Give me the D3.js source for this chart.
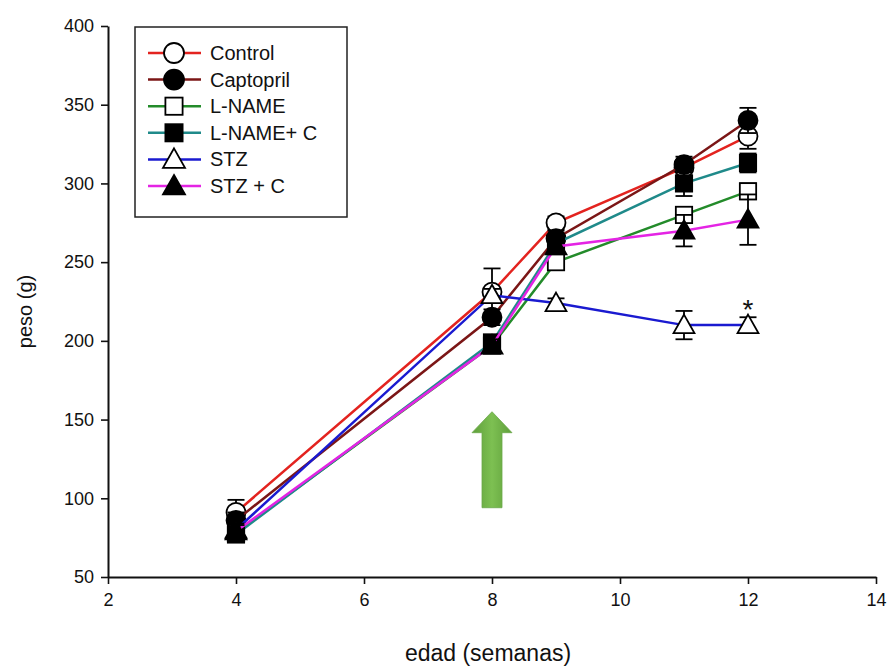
<!DOCTYPE html>
<html>
<head>
<meta charset="utf-8">
<script src="https://cdn.jsdelivr.net/npm/d3@7"></script>
<style>
  body { margin: 0; background: #fff; }
  svg { display: block; font-family: "Liberation Sans", Arial, sans-serif; }
</style>
</head>
<body>
<svg id="chart" width="890" height="666"></svg>
<script>
// Body weight (g) by age (weeks) for each treatment group, mean ± SE
const weeks = [4, 8, 9, 11, 12];
const groupNames = ["Control", "Captopril", "L-NAME", "L-NAME+ C", "STZ", "STZ + C"];
const controlMean   = [91, 231, 275, 310, 330];
const controlErr    = [8, 15, 4, 5, 8];
const captoprilMean = [86, 215, 265, 312, 340];
const captoprilErr  = [5, 5, 5, 5, 8];
const lnameMean     = [78, 197, 250, 280, 295];
const lnameErr      = [4, 4, 5, 5, 5];
const lnameCMean    = [77, 199, 262, 300, 313];
const lnameCErr     = [4, 4, 5, 8, 6];
const stzMean       = [80, 229, 224, 210, 210];
const stzErr        = [4, 4, 3, 9, 5];
const stzCMean      = [79, 197, 260, 270, 277];
const stzCErr       = [4, 4, 5, 10, 16];
const xTicks = [2, 4, 6, 8, 10, 12, 14];
const yTicks = [50, 100, 150, 200, 250, 300, 350, 400];
const starWeek = 12, starValue = 225;             // significance mark over STZ
const arrowWeek = 8, arrowTop = 155, arrowBottom = 94; // treatment start

const styles = [
  { color: "#e3231f", shape: "circle",   fill: "#fff" },
  { color: "#7b1616", shape: "circle",   fill: "#000" },
  { color: "#238b2a", shape: "square",   fill: "#fff" },
  { color: "#1f8a8a", shape: "square",   fill: "#000" },
  { color: "#1a1ad0", shape: "triangle", fill: "#fff" },
  { color: "#e424e4", shape: "triangle", fill: "#000" }
];
const means = [controlMean, captoprilMean, lnameMean, lnameCMean, stzMean, stzCMean];
const errs  = [controlErr, captoprilErr, lnameErr, lnameCErr, stzErr, stzCErr];
const series = groupNames.map((name, i) => ({
  name, ...styles[i],
  points: weeks.map((w, j) => ({ w, v: means[i][j], e: errs[i][j] }))
}));

const svg = d3.select("#chart");
const margin = { left: 108, top: 26, right: 14, bottom: 89 };
const W = 890 - margin.left - margin.right;
const H = 666 - margin.top - margin.bottom;
const g = svg.append("g").attr("transform", `translate(${margin.left},${margin.top})`);

const x = d3.scaleLinear().domain([2, 14]).range([0, W]);
const y = d3.scaleLinear().domain([50, 400]).range([H, 0]);

// Axes
const yAxis = g.append("g")
  .call(d3.axisLeft(y).tickValues(yTicks).tickSize(7).tickSizeOuter(0).tickPadding(7));
const xAxis = g.append("g").attr("transform", `translate(0,${H})`)
  .call(d3.axisBottom(x).tickValues(xTicks).tickSize(7).tickSizeOuter(0).tickPadding(9));
[yAxis, xAxis].forEach(a => {
  a.select(".domain").attr("stroke", "#111").attr("stroke-width", 2);
  a.selectAll(".tick line").attr("stroke", "#111").attr("stroke-width", 1.6);
  a.selectAll(".tick text").attr("fill", "#111").style("font-size", "18px")
    .style("font-family", "'Liberation Sans', Arial, sans-serif");
});

g.append("text").attr("transform", `translate(-76,${H / 2 + 10}) rotate(-90)`)
  .attr("text-anchor", "middle").attr("fill", "#111").style("font-size", "20px")
  .text("peso (g)");
g.append("text").attr("x", W / 2 - 4).attr("y", H + 84)
  .attr("text-anchor", "middle").attr("fill", "#111").style("font-size", "23px")
  .text("edad (semanas)");

// Green arrow marking start of treatment
const defs = svg.append("defs");
const grad = defs.append("linearGradient").attr("id", "arrowGrad")
  .attr("x1", "0").attr("x2", "1").attr("y1", "0").attr("y2", "0");
grad.append("stop").attr("offset", "0").attr("stop-color", "#5f9f3b");
grad.append("stop").attr("offset", "0.5").attr("stop-color", "#7dc052");
grad.append("stop").attr("offset", "1").attr("stop-color", "#5f9f3b");
{
  const cx = x(arrowWeek), tip = y(arrowTop), bottom = y(arrowBottom);
  const headHalf = 20, shaftHalf = 10, headH = 21;
  const pts = [
    [cx, tip], [cx + headHalf, tip + headH], [cx + shaftHalf, tip + headH],
    [cx + shaftHalf, bottom], [cx - shaftHalf, bottom], [cx - shaftHalf, tip + headH],
    [cx - headHalf, tip + headH]
  ];
  g.append("path").attr("d", d3.line()(pts) + "Z")
    .attr("fill", "url(#arrowGrad)").attr("stroke", "#6aa84a").attr("stroke-width", 0.8);
}

// Marker drawing
function marker(sel, shape, fill, size) {
  if (shape === "circle") {
    sel.append("circle").attr("r", size / 2);
  } else if (shape === "square") {
    sel.append("rect").attr("x", -size * 0.43).attr("y", -size * 0.43)
      .attr("width", size * 0.86).attr("height", size * 0.86);
  } else {
    const s = size;
    sel.append("path").attr("d", `M0,${-s * 0.55}L${s * 0.55},${s * 0.42}L${-s * 0.55},${s * 0.42}Z`);
  }
  sel.selectAll("circle,rect,path").attr("fill", fill).attr("stroke", "#000").attr("stroke-width", 1.8);
}

const line = d3.line().x(d => x(d.w)).y(d => y(d.v));
const capW = 8.5;

series.forEach(s => {
  const sg = g.append("g");
  sg.append("path").datum(s.points).attr("d", line)
    .attr("fill", "none").attr("stroke", s.color).attr("stroke-width", 2.5);
  // error bars
  s.points.forEach(p => {
    const eg = sg.append("g").attr("stroke", "#000").attr("stroke-width", 1.8);
    eg.append("line").attr("x1", x(p.w)).attr("x2", x(p.w)).attr("y1", y(p.v - p.e)).attr("y2", y(p.v + p.e));
    [p.v - p.e, p.v + p.e].forEach(v => eg.append("line")
      .attr("x1", x(p.w) - capW).attr("x2", x(p.w) + capW).attr("y1", y(v)).attr("y2", y(v)));
  });
  s.points.forEach(p => {
    const mg = sg.append("g").attr("transform", `translate(${x(p.w)},${y(p.v)})`);
    marker(mg, s.shape, s.fill, 19);
  });
});

// Significance asterisk
g.append("text").attr("x", x(starWeek)).attr("y", y(starValue) + 17)
  .attr("text-anchor", "middle").attr("fill", "#111").style("font-size", "28px").text("*");

// Legend
const lg = g.append("g").attr("transform", "translate(27,1)");
lg.append("rect").attr("x", 0).attr("y", 0).attr("width", 212).attr("height", 190)
  .attr("fill", "#fff").attr("stroke", "#222").attr("stroke-width", 1.5);
series.forEach((s, i) => {
  const row = lg.append("g").attr("transform", `translate(0,${26 + i * 26.6})`);
  row.append("line").attr("x1", 13).attr("x2", 66).attr("stroke", s.color).attr("stroke-width", 2.5);
  const mg = row.append("g").attr("transform", "translate(39,0)");
  marker(mg, s.shape, s.fill, 20);
  row.append("text").attr("x", 75).attr("y", 7).attr("fill", "#111")
    .style("font-size", "20px").text(s.name);
});
</script>
</body>
</html>
